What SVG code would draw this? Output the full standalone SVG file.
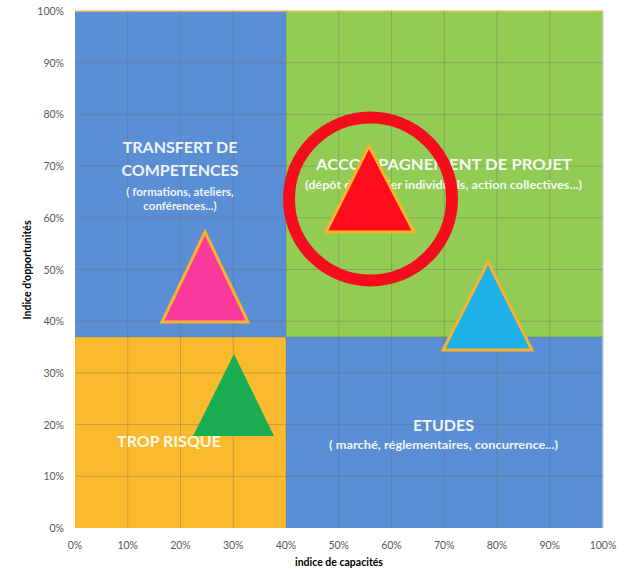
<svg xmlns="http://www.w3.org/2000/svg" width="630" height="570" viewBox="0 0 630 570">
  <defs>
    <style>
      .grid { stroke: #6b6b6b; stroke-opacity: 0.35; stroke-width: 1; fill: none; }
      .tick { font-family: Lato, "Liberation Sans", sans-serif; font-size: 10.5px; fill: #595959; }
      .ty { text-anchor: end; }
      .tx { text-anchor: middle; }
      .title { font-family: Lato, "Liberation Sans", sans-serif; font-weight: bold; fill: #ffffff; fill-opacity: 0.93; text-anchor: middle; }
      .big { font-size: 16px; }
      .small { font-size: 11.5px; }
      .axis { font-family: Lato, "Liberation Sans", sans-serif; font-weight: bold; font-size: 10.5px; fill: #000000; text-anchor: middle; }
      .tri { stroke: #f6b22c; stroke-width: 3; stroke-linejoin: miter; }
    </style>
  </defs>
  <rect width="630" height="570" fill="#ffffff"/>

  <g id="quadrants">
    <rect x="75" y="11" width="211" height="326" fill="#5a8fd5"/>
    <rect x="286" y="11" width="317" height="326" fill="#92cc55"/>
    <rect x="75" y="337" width="211" height="191" fill="#fbba2d"/>
    <rect x="286" y="337" width="317" height="191" fill="#5a8fd5"/>
    <line x1="75" y1="11" x2="603" y2="11" stroke="#f0c060" stroke-width="1.5"/>
    <line x1="603" y1="11" x2="603" y2="528" stroke="#d0d0d0" stroke-width="1.5"/>
  </g>

  <g id="gridlines">
    <path class="grid" d="M127.75 11V528M180.5 11V528M233.25 11V528M286 11V528M338.75 11V528M391.5 11V528M444.25 11V528M497 11V528M549.75 11V528"/>
    <path class="grid" d="M75 476.3H603M75 424.6H603M75 372.9H603M75 321.2H603M75 269.5H603M75 217.8H603M75 166.1H603M75 114.4H603M75 62.7H603"/>
    <path class="grid" d="M75 337H603"/>
  </g>

  <g id="y-ticks" class="tick ty">
    <text x="64" y="532" class="tick ty">0%</text>
    <text x="64" y="480.3" class="tick ty">10%</text>
    <text x="64" y="428.6" class="tick ty">20%</text>
    <text x="64" y="376.9" class="tick ty">30%</text>
    <text x="64" y="325.2" class="tick ty">40%</text>
    <text x="64" y="273.5" class="tick ty">50%</text>
    <text x="64" y="221.8" class="tick ty">60%</text>
    <text x="64" y="170.1" class="tick ty">70%</text>
    <text x="64" y="118.4" class="tick ty">80%</text>
    <text x="64" y="66.7" class="tick ty">90%</text>
    <text x="64" y="15" class="tick ty">100%</text>
  </g>

  <g id="x-ticks">
    <text x="75" y="549" class="tick tx">0%</text>
    <text x="127.75" y="549" class="tick tx">10%</text>
    <text x="180.5" y="549" class="tick tx">20%</text>
    <text x="233.25" y="549" class="tick tx">30%</text>
    <text x="286" y="549" class="tick tx">40%</text>
    <text x="338.75" y="549" class="tick tx">50%</text>
    <text x="391.5" y="549" class="tick tx">60%</text>
    <text x="444.25" y="549" class="tick tx">70%</text>
    <text x="497" y="549" class="tick tx">80%</text>
    <text x="549.75" y="549" class="tick tx">90%</text>
    <text x="603" y="549" class="tick tx">100%</text>
  </g>

  <g id="axis-titles">
    <text x="339" y="566" class="axis">indice de capacités</text>
    <text x="0" y="0" class="axis" font-size="10px" transform="translate(31 270) rotate(-90)">Indice d'opportunités</text>
  </g>

  <g id="transfert">
    <text x="180" y="153" class="title big">TRANSFERT DE</text>
    <text x="180" y="176" class="title big">COMPETENCES</text>
    <text x="180" y="196" class="title small">( formations, ateliers,</text>
    <text x="180" y="210" class="title small">conférences...)</text>
  </g>

  <g id="accompagnement">
    <text x="444" y="170" class="title big" textLength="256" lengthAdjust="spacingAndGlyphs">ACCOMPAGNEMENT DE PROJET</text>
    <text x="443.5" y="189" class="title small" textLength="277" lengthAdjust="spacingAndGlyphs">(dépôt de dossier individuels, action collectives...)</text>
  </g>

  <g id="trop-risque">
    <text x="169" y="447" class="title big">TROP RISQUE</text>
  </g>

  <g id="etudes">
    <text x="443.5" y="431" class="title big">ETUDES</text>
    <text x="443.5" y="449" class="title small" textLength="229" lengthAdjust="spacingAndGlyphs">( marché, réglementaires, concurrence...)</text>
  </g>

  <g id="triangle-pink">
    <polygon class="tri" points="205,232 162,322 248,322" fill="#f93a9c"/>
  </g>
  <g id="triangle-green">
    <polygon points="234,354 193,436 274,436" fill="#1aad52"/>
  </g>
  <g id="triangle-red">
    <polygon class="tri" points="369,146 326,232 414,232" fill="#fe0d1c"/>
  </g>
  <g id="triangle-blue">
    <polygon class="tri" points="488,262 443,350 532,350" fill="#1fb0ea"/>
  </g>
  <g id="highlight-circle">
    <circle cx="370.5" cy="199" r="81.5" fill="none" stroke="#f50d1c" stroke-width="12"/>
  </g>
</svg>
